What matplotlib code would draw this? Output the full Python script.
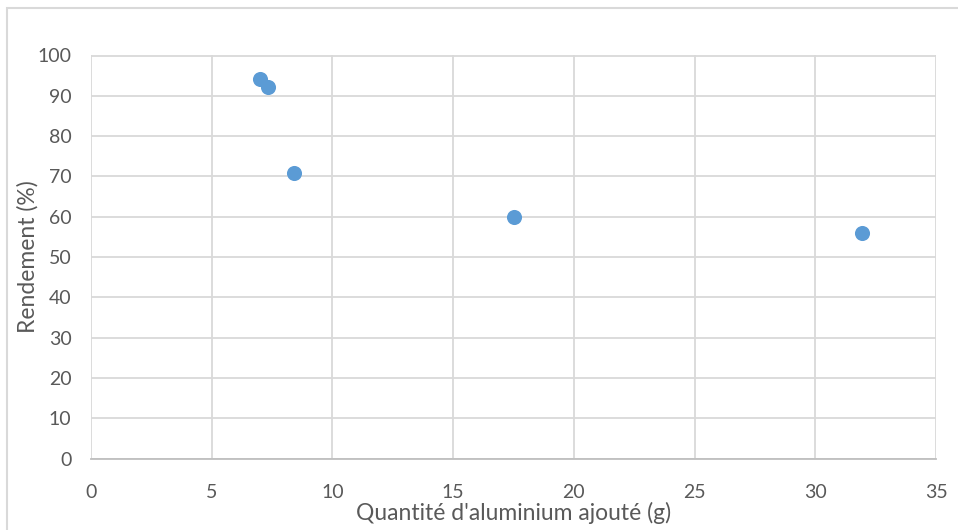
import matplotlib
matplotlib.use('Agg')
import matplotlib.pyplot as plt
from matplotlib.patches import Rectangle

# values
aluminium = [7.0, 7.35, 8.4, 17.5, 31.95]
rendement = [94.1, 92.2, 70.8, 60.0, 55.9]
x_ticks = [0, 5, 10, 15, 20, 25, 30, 35]
y_ticks = [0, 10, 20, 30, 40, 50, 60, 70, 80, 90, 100]

plt.rcParams['font.family'] = ['Lato', 'DejaVu Sans']
grey_txt = '#595959'
grid_col = '#D9D9D9'

fig = plt.figure(figsize=(9.58, 5.30), dpi=100)
W, H = 958., 530.

# light chart frame, as Excel draws it
fig.patches.append(Rectangle((7/W, -0.1), 1.1, 1 - 8/H + 0.1, transform=fig.transFigure,
                             fill=False, edgecolor='#D9D9D9', linewidth=1.5))

ax = fig.add_axes([91/W, (H - 458.5)/H, (936 - 91)/W, (458.5 - 55.5)/H])
ax.scatter(aluminium, rendement, s=118, color='#5B9BD5', zorder=3, linewidths=0)

ax.set_xlim(0, 35)
ax.set_ylim(0, 100)
ax.set_xticks(x_ticks)
ax.set_yticks(y_ticks)
ax.grid(True, color=grid_col, linewidth=1.3, zorder=0)
ax.set_axisbelow(True)
for side in ['top', 'left', 'right']:
    ax.spines[side].set_visible(False)
ax.spines['bottom'].set_color('#BFBFBF')
ax.spines['bottom'].set_linewidth(1.3)
ax.tick_params(axis='both', length=0, labelsize=14, labelcolor=grey_txt)
ax.tick_params(axis='x', pad=18)
ax.tick_params(axis='y', pad=14)

ax.set_xlabel("Quantité d'aluminium ajouté (g)", fontsize=16.5, color=grey_txt, labelpad=1)
ax.set_ylabel('Rendement (%)', fontsize=16.5, color=grey_txt, labelpad=-1)

fig.savefig('out.png', dpi=100)
